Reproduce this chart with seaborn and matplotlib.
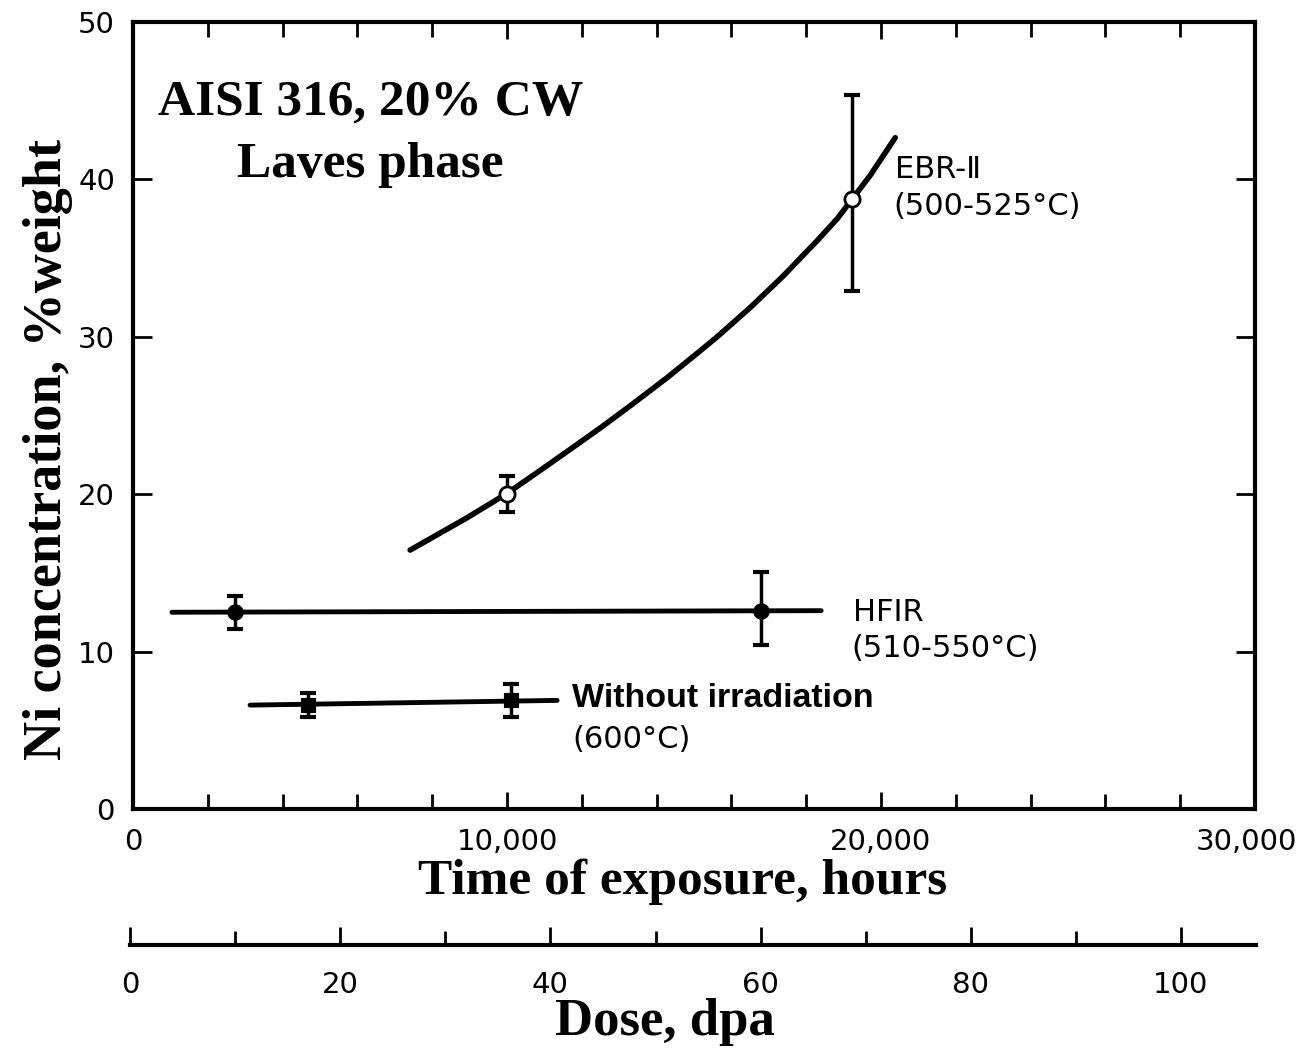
import matplotlib
matplotlib.use("Agg")
import matplotlib.pyplot as plt
import matplotlib.transforms as mtransforms
from matplotlib.ticker import MultipleLocator, FixedLocator, FixedFormatter
import seaborn as sns

# EBR-II (500-525 °C): measured points with error bars and fitted trend
ebr_hours = [10000, 19230]
ebr_ni = [20.0, 38.75]
ebr_err_lo = [1.15, 5.85]
ebr_err_hi = [1.15, 6.6]
ebr_curve_hours = [7410, 8930, 10000, 10700, 11600, 12490, 13370, 14280, 15110,
                   15620, 16500, 17380, 18290, 18830, 19230, 19710, 20380]
ebr_curve_ni = [16.45, 18.5, 20.05, 21.2, 22.7, 24.2, 25.75, 27.4, 29.0,
                30.0, 31.85, 33.85, 36.1, 37.5, 38.75, 40.25, 42.65]

# HFIR (510-550 °C)
hfir_hours = [2730, 16790]
hfir_ni = [12.5, 12.6]
hfir_err_lo = [1.05, 2.2]
hfir_err_hi = [1.05, 2.45]
hfir_span_hours = [1040, 18400]
hfir_span_ni = [12.5, 12.6]

# Thermal ageing without irradiation (600 °C)
noirr_hours = [4680, 10100]
noirr_ni = [6.6, 6.9]
noirr_err = [0.75, 1.05]
noirr_span_hours = [3130, 11340]
noirr_span_ni = [6.6, 6.9]

# Axis ticks
hour_ticks = [0, 10000, 20000, 30000]
hour_labels = ["0", "10,000", "20,000", "30,000"]
ni_ticks = [0, 10, 20, 30, 40, 50]
dose_ticks = [0, 20, 40, 60, 80, 100]

sns.set_theme(style="ticks")
plt.rcParams["font.family"] = ["DejaVu Sans"]

W, H = 1302, 1048
fig = plt.figure(figsize=(W / 100, H / 100), dpi=100)
fig.patch.set_facecolor("white")

x0, x1, y0, y1 = 133, 1255, 809, 22
ax = fig.add_axes([x0 / W, 1 - y0 / H, (x1 - x0) / W, (y0 - y1) / H])
ax.set_facecolor("white")
ax.set_xlim(0, 30000)
ax.set_ylim(0, 50)

K = "black"
lab_font = dict(family="DejaVu Sans", size=22, color=K)

# fitted EBR-II trend
sns.lineplot(x=ebr_curve_hours, y=ebr_curve_ni, ax=ax, color=K, lw=4,
             sort=False, estimator=None)
# time spans of the HFIR and unirradiated series
sns.lineplot(x=hfir_span_hours, y=hfir_span_ni, ax=ax, color=K, lw=3.5,
             sort=False, estimator=None)
sns.lineplot(x=noirr_span_hours, y=noirr_span_ni, ax=ax, color=K, lw=3.5,
             sort=False, estimator=None)

# error bars
ax.errorbar(ebr_hours, ebr_ni, yerr=[ebr_err_lo, ebr_err_hi], fmt="none",
            ecolor=K, elinewidth=2.5, capsize=6, capthick=3, zorder=3)
ax.errorbar(hfir_hours, hfir_ni, yerr=[hfir_err_lo, hfir_err_hi], fmt="none",
            ecolor=K, elinewidth=2.5, capsize=6, capthick=3, zorder=3)
ax.errorbar(noirr_hours, noirr_ni, yerr=noirr_err, fmt="none",
            ecolor=K, elinewidth=2.5, capsize=6, capthick=3, zorder=3)

# markers
sns.scatterplot(x=ebr_hours, y=ebr_ni, ax=ax, marker="o", s=120,
                facecolor="white", edgecolor=K, linewidth=2, zorder=5)
sns.scatterplot(x=hfir_hours, y=hfir_ni, ax=ax, marker="o", s=120,
                color=K, edgecolor=K, zorder=5)
sns.scatterplot(x=noirr_hours, y=noirr_ni, ax=ax, marker="s", s=110,
                color=K, edgecolor=K, zorder=5)

# axes frame and ticks
for sp in ax.spines.values():
    sp.set_linewidth(3)
    sp.set_color(K)
    sp.set_visible(True)
ax.xaxis.set_major_locator(FixedLocator(hour_ticks))
ax.xaxis.set_major_formatter(FixedFormatter(hour_labels))
ax.xaxis.set_minor_locator(MultipleLocator(2000))
ax.yaxis.set_major_locator(FixedLocator(ni_ticks))
ax.tick_params(axis="both", which="both", direction="in", top=True, right=True,
               color=K, width=2)
ax.tick_params(axis="x", which="major", length=12, pad=14, labelsize=21, labelcolor=K)
ax.tick_params(axis="x", which="minor", length=11)
ax.tick_params(axis="y", which="major", length=14, pad=13, labelsize=21, labelcolor=K)
ax.set_xlabel("")
ax.set_ylabel("")

# keep the last hour label inside the figure edge
fig.canvas.draw()
last = ax.get_xticklabels()[-1]
last.set_transform(last.get_transform() +
                   mtransforms.ScaledTranslation(-9 / 100, 0, fig.dpi_scale_trans))

# series annotations
ax.text(20370, 40.6, "EBR-Ⅱ", ha="left", va="center", **lab_font)
ax.text(20320, 38.3, "(500-525°C)", ha="left", va="center", **lab_font)
ax.text(19250, 12.5, "HFIR", ha="left", va="center", **lab_font)
ax.text(19200, 10.2, "(510-550°C)", ha="left", va="center", **lab_font)
ax.text(11740, 7.0, "Without irradiation", ha="left", va="center",
        family="Liberation Sans", weight="bold", size=24.5, color=K)
ax.text(11740, 4.4, "(600°C)", ha="left", va="center", **lab_font)

serif_bold = dict(family="Liberation Serif", weight="bold", color=K)
ax.text(6350, 44.9, "AISI 316, 20% CW", ha="center", va="center", size=37, **serif_bold)
ax.text(6350, 40.9, "Laves phase", ha="center", va="center", size=37, **serif_bold)

fig.text(683 / W, 1 - 882 / H, "Time of exposure, hours", ha="center", va="center",
         size=37, **serif_bold)
fig.text(48 / W, 1 - 450 / H, "Ni concentration, %weight", ha="center", va="center",
         rotation=90, size=39, **serif_bold)

# secondary dose scale
d0, d1, dy = 130, 1256, 945
dax = fig.add_axes([d0 / W, 1 - dy / H, (d1 - d0) / W, 0.001])
dax.set_facecolor("none")
dax.set_xlim(0, (d1 - d0) / 10.51)
dax.set_yticks([])
for name, sp in dax.spines.items():
    sp.set_visible(name == "bottom")
dax.spines["bottom"].set_linewidth(3)
dax.spines["bottom"].set_color(K)
dax.xaxis.set_major_locator(FixedLocator(dose_ticks))
dax.xaxis.set_minor_locator(MultipleLocator(10))
dax.tick_params(axis="x", which="both", direction="in", color=K, width=2)
dax.tick_params(axis="x", which="major", length=13, pad=19, labelsize=21, labelcolor=K)
dax.tick_params(axis="x", which="minor", length=10)
fig.text(665 / W, 1 - 1022 / H, "Dose, dpa", ha="center", va="center",
         size=38, **serif_bold)

fig.savefig("out.png", dpi=100, facecolor="white")
